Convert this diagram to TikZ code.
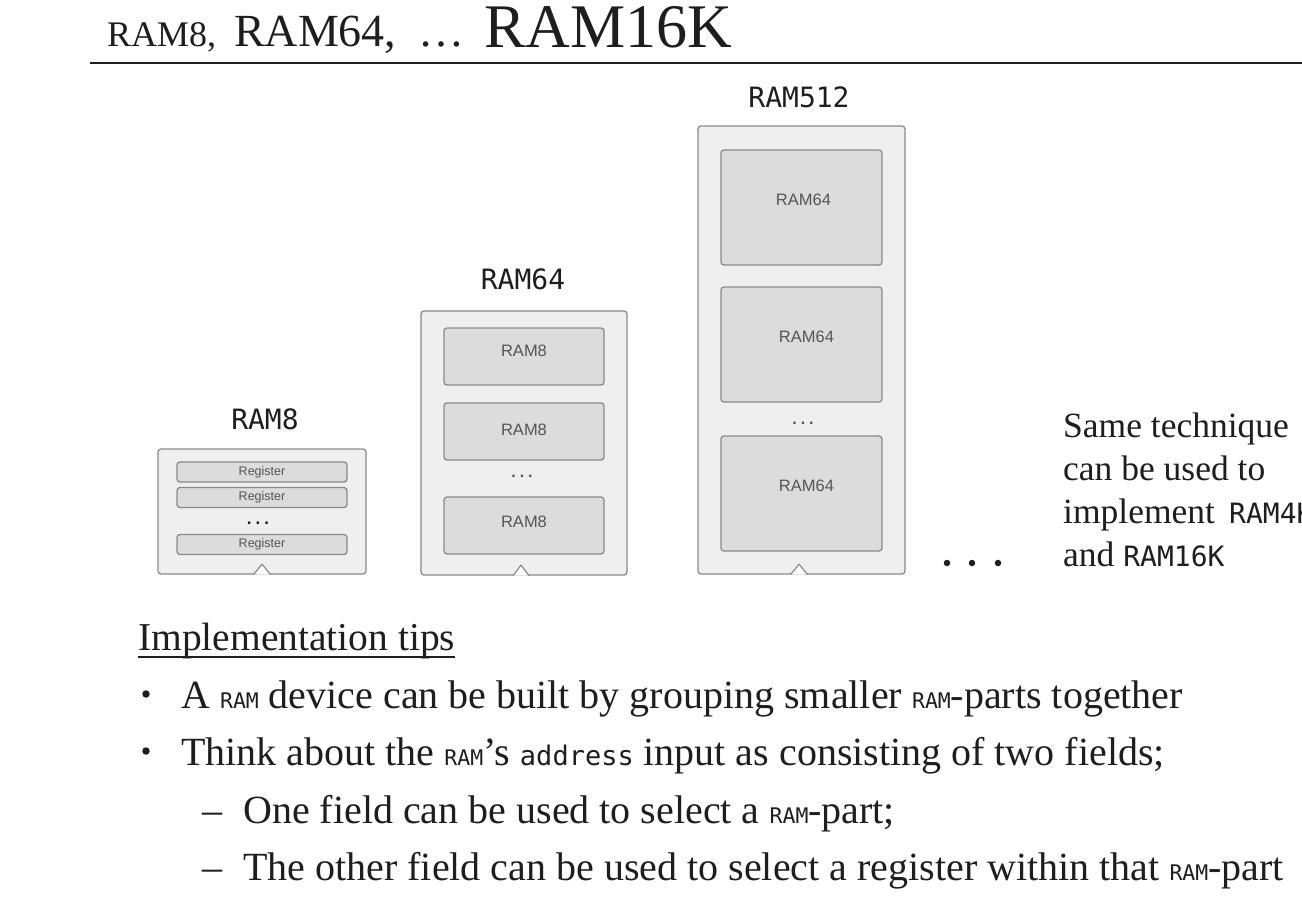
\documentclass[tikz,border=0pt]{standalone}
\usepackage{fontspec}
\setmainfont{Liberation Serif}
\newfontfamily\monof{DejaVu Sans Mono}
\newfontfamily\sansf{Liberation Sans}
\newcommand{\fs}[1]{\fontsize{#1}{#1}\selectfont}
\newcommand{\sram}{{\monof\fs{21.5}RAM}}
\definecolor{obox}{HTML}{EFEFEF}
\definecolor{ibox}{HTML}{DCDCDC}
\definecolor{bline}{HTML}{8A8A8A}
\definecolor{itext}{HTML}{555555}
\definecolor{slidetext}{HTML}{1E1E1E}
\tikzset{
  outerbox/.style={draw=bline, fill=obox, line width=1.3pt, rounded corners=3pt, inner sep=0pt},
  innerbox/.style={draw=bline, fill=ibox, line width=1.3pt, rounded corners=3pt, inner sep=0pt, text=itext, font=\sansf\fs{16.5}},
  regbox/.style={innerbox, font=\sansf\fs{12.5}},
  lbl/.style={font=\monof\fs{28}, text=slidetext, inner sep=0pt},
  tri/.style={draw=bline, fill=white, line width=1.2pt, line join=round},
  innerdots/.style={font=\sansf\bfseries\fs{16}, text=itext, inner sep=0pt},
  body/.style={anchor=base west, inner sep=0pt, font=\fs{40}, text=slidetext},
  side/.style={anchor=base west, inner sep=0pt, font=\fs{35.5}, text=slidetext},
  ttl/.style={anchor=base west, inner sep=0pt, text=slidetext},
  bigdot/.style={circle, fill=slidetext, inner sep=0pt, minimum size=6.5pt},
  bullet/.style={circle, fill=slidetext, inner sep=0pt, minimum size=7.5pt},
}
\begin{document}
\begin{tikzpicture}[x=1pt,y=-1pt]
\useasboundingbox (0,0) rectangle (1302,922);
\fill[white] (0,0) rectangle (1302,922);

% title
\node[ttl, font=\fs{36}] (tt8) at (107,46) {RAM8,};
\node[ttl, font=\fs{46}] (tt64) at (234,46) {RAM64,};
\node[ttl, font=\fs{46}] (ttdots) at (418,46) {\ldots};
\node[ttl, font=\fs{62}] (tt16) at (484,47.5) {RAM16K};
\coordinate (ruleL) at (90,63);
\coordinate (ruleR) at (1302,63);
\draw[line width=2pt, slidetext] (ruleL) -- (ruleR);

% RAM8
\node[lbl] (l8) at (265,419) {RAM8};
\node[outerbox, minimum width=208pt, minimum height=125pt] (r8) at (262,511.5) {};
\node[regbox, minimum width=170pt, minimum height=20pt] (r8a) at (262,472) {Register};
\node[regbox, minimum width=170pt, minimum height=20pt] (r8b) at (262,497.5) {Register};
\node[innerdots, font=\sansf\bfseries\fs{17}, text=slidetext] (r8d) at (258,523) {.\hspace{4pt}.\hspace{4pt}.};
\node[regbox, minimum width=170pt, minimum height=20pt] (r8c) at (262,544.5) {Register};
\draw[tri] ([xshift=-8.5pt]r8.south) -- ([yshift=10.5pt]r8.south) -- ([xshift=8.5pt]r8.south);

% RAM64
\node[lbl] (l64) at (523,279) {RAM64};
\node[outerbox, minimum width=206pt, minimum height=264pt] (r64) at (524,443) {};
\node[innerbox, minimum width=160pt, minimum height=57pt] (r64a) at (524,356.5) {};
\node[innerbox, minimum width=160pt, minimum height=57pt] (r64b) at (524,431.5) {};
\node[innerdots] (r64d) at (522,476) {.\hspace{4pt}.\hspace{4pt}.};
\node[innerbox, minimum width=160pt, minimum height=57pt] (r64c) at (524,525.5) {};
\node[text=itext, font=\sansf\fs{16.5}] (t64a) at ([yshift=6pt]r64a.center) {RAM8};
\node[text=itext, font=\sansf\fs{16.5}] (t64b) at ([yshift=2pt]r64b.center) {RAM8};
\node[text=itext, font=\sansf\fs{16.5}] (t64c) at ([yshift=4pt]r64c.center) {RAM8};
\draw[tri] ([xshift=-11pt]r64.south) -- ([xshift=-3pt,yshift=10.5pt]r64.south) -- ([xshift=5pt]r64.south);

% RAM512
\node[lbl] (l512) at (799,97) {RAM512};
\node[outerbox, minimum width=207pt, minimum height=448pt] (r512) at (801.5,350) {};
\node[innerbox, minimum width=161pt, minimum height=115pt] (r512a) at (801.5,207.5) {};
\node[innerbox, minimum width=161pt, minimum height=115pt] (r512b) at (801.5,344.5) {};
\node[innerdots] (r512d) at (803,423) {.\hspace{4pt}.\hspace{4pt}.};
\node[innerbox, minimum width=161pt, minimum height=115pt] (r512c) at (801.5,493.5) {};
\node[text=itext, font=\sansf\fs{16.5}] (t512a) at ([xshift=2pt,yshift=8pt]r512a.center) {RAM64};
\node[text=itext, font=\sansf\fs{16.5}] (t512b) at ([xshift=5pt,yshift=8pt]r512b.center) {RAM64};
\node[text=itext, font=\sansf\fs{16.5}] (t512c) at ([xshift=5pt,yshift=8pt]r512c.center) {RAM64};
\draw[tri] ([xshift=-11pt]r512.south) -- ([xshift=-2.5pt,yshift=10.5pt]r512.south) -- ([xshift=6pt]r512.south);

% continuation dots
\node[bigdot] (g1) at (947,563) {};
\node[bigdot] (g2) at (972,563) {};
\node[bigdot] (g3) at (998,563) {};

% side text
\node[side] (s1) at (1063,437) {Same technique};
\node[side] (s2) at (1063,480) {can be used to};
\node[side] (s3) at (1063,523) {implement\hspace{0.4em}{\monof\fs{28}RAM4K}};
\node[side] (s4) at (1063,566) {and {\monof\fs{28}RAM16K}};

% implementation tips
\node[body, font=\fs{39.5}] (tips) at (138,650) {Implementation tips};
\draw[line width=1.5pt, slidetext] ([yshift=-7pt]tips.base west) -- ([yshift=-7pt]tips.base east);

\node[bullet] (d1) at (146,694) {};
\node[body] (b1) at (181,708) {A \sram{} device can be built by grouping smaller \sram-parts together};
\node[bullet] (d2) at (146,751) {};
\node[body] (b2) at (181,765) {Think about the \sram’s {\monof\fs{27}address} input as consisting of two fields;};
\node[body] (e1) at (202,823) {–};
\node[body] (b3) at (243,823) {One field can be used to select a \sram-part;};
\node[body] (e2) at (202,880) {–};
\node[body] (b4) at (243,880) {The other field can be used to select a register within that \sram-part};
\end{tikzpicture}
\end{document}
